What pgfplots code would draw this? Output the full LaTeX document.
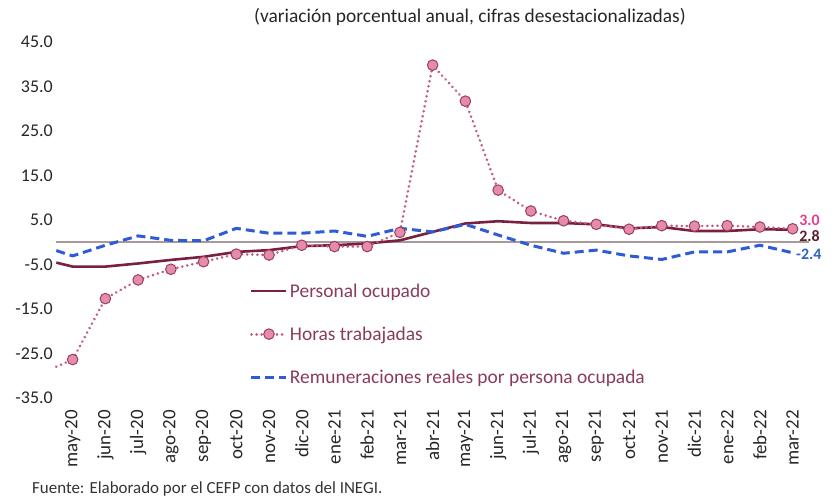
\documentclass[border=0pt]{standalone}
\usepackage{pgfplots}
\pgfplotsset{compat=1.18}
\usepackage{fontspec}
\setmainfont{Carlito}
\definecolor{maroon}{HTML}{7A1F3D}
\definecolor{horasline}{HTML}{C45C80}
\definecolor{horasfill}{HTML}{E58DA8}
\definecolor{horasdraw}{HTML}{9C3F5E}
\definecolor{remblue}{HTML}{2E5BD6}
\definecolor{zerogray}{HTML}{A89A9A}
\definecolor{legtext}{HTML}{8A3B5C}
\definecolor{pinklab}{HTML}{E0408E}
\definecolor{darklab}{HTML}{5A1F2B}
\definecolor{bluelab}{HTML}{3060C8}
\begin{document}
\begin{tikzpicture}[x=1bp,y=1bp]
\useasboundingbox (0,0) rectangle (835,496);
\begin{axis}[
  at={(56.3bp,98.2bp)}, anchor=south west,
  scale only axis, width=752.7bp, height=355.8bp,
  xmin=-0.5, xmax=22.5, ymin=-35, ymax=45,
  axis line style={draw=none}, tick style={draw=none}, clip=false,
  xtick={0,...,22},
  xticklabels={may-20,jun-20,jul-20,ago-20,sep-20,oct-20,nov-20,dic-20,ene-21,feb-21,mar-21,abr-21,may-21,jun-21,jul-21,ago-21,sep-21,oct-21,nov-21,dic-21,ene-22,feb-22,mar-22},
  ytick={-35,-25,...,45},
  yticklabel style={font=\fontsize{18}{21}\selectfont, /pgf/number format/.cd,fixed,fixed zerofill,precision=1,assume math mode=true},
  ticklabel style={text=black!85},
  xticklabel style={font=\fontsize{19}{22}\selectfont, yshift=-9bp, rotate=90, anchor=east},
  legend style={at={(0.257,0.327)}, anchor=north west, draw=none, fill=none,
    font=\fontsize{19.5}{23}\selectfont, text=legtext, row sep=24bp, inner sep=0pt},
  legend cell align=left,
  legend image code/.code={\draw[mark repeat=2,mark phase=2,#1] plot coordinates {(0bp,0bp) (17.5bp,0bp) (35bp,0bp)};},
]
\addplot[zerogray, line width=1.8bp, forget plot] coordinates {(-0.5,0) (22.5,0)};
% Personal ocupado
\addplot[maroon, line width=2.6bp, no marks] coordinates {
(-0.5,-4.6) (0,-5.5) (1,-5.5) (2,-4.8) (3,-4.0) (4,-3.3) (5,-2.2) (6,-1.8) (7,-0.9)
(8,-0.7) (9,-0.3) (10,0.4) (11,2.3) (12,4.2) (13,4.7) (14,4.3) (15,4.3) (16,4.0)
(17,3.1) (18,3.4) (19,2.5) (20,2.5) (21,2.9) (22,2.8)};
\addlegendentry{Personal ocupado}
% Horas trabajadas
\addplot[horasline, line width=2.8bp, line cap=round, dash pattern=on 0.1bp off 5bp, forget plot] coordinates {(-0.5,-28.0) (0,-26.4)};
\addplot[horasline, line width=2.8bp, line cap=round, dash pattern=on 0.1bp off 5bp,
  mark=*, mark size=5.3bp, mark options={solid, fill=horasfill, draw=horasdraw, line width=1bp}] coordinates {
(0,-26.4) (1,-12.7) (2,-8.5) (3,-6.1) (4,-4.4) (5,-2.7) (6,-2.9) (7,-0.7)
(8,-1.0) (9,-1.0) (10,2.2) (11,39.8) (12,31.7) (13,11.7) (14,7.0) (15,4.8) (16,4.0)
(17,2.9) (18,3.7) (19,3.6) (20,3.7) (21,3.4) (22,3.0)};
\addlegendentry{Horas trabajadas}
% Remuneraciones
\addplot[remblue, line width=3bp, dash pattern=on 9bp off 5bp, no marks] coordinates {
(-0.5,-1.9) (0,-3.1) (1,-0.7) (2,1.4) (3,0.4) (4,0.3) (5,3.1) (6,2.0) (7,2.0)
(8,2.5) (9,1.3) (10,3.1) (11,2.3) (12,4.0) (13,1.6) (14,-0.7) (15,-2.5) (16,-1.8)
(17,-3.1) (18,-3.9) (19,-2.2) (20,-2.2) (21,-0.7) (22,-2.4)};
\addlegendentry{Remuneraciones reales por persona ocupada}
\node[anchor=west, text=pinklab, font=\bfseries\fontsize{16}{18}\selectfont, inner sep=0pt] at (axis cs:22.2,4.8) {3.0};
\node[anchor=west, text=darklab, font=\bfseries\fontsize{16}{18}\selectfont, inner sep=0pt] at (axis cs:22.2,1.4) {2.8};
\node[anchor=west, text=bluelab, font=\bfseries\fontsize{16}{18}\selectfont, inner sep=0pt] at (axis cs:22.1,-2.7) {-2.4};
\end{axis}
\node[text=black!85, font=\fontsize{19.5}{23}\selectfont] at (470,479) {(variación porcentual anual, cifras desestacionalizadas)};
\node[anchor=west, text=black!80, font=\fontsize{17}{20}\selectfont, inner sep=0pt] at (32,7.5) {Fuente: Elaborado por el CEFP con datos del INEGI.};
\end{tikzpicture}
\end{document}
